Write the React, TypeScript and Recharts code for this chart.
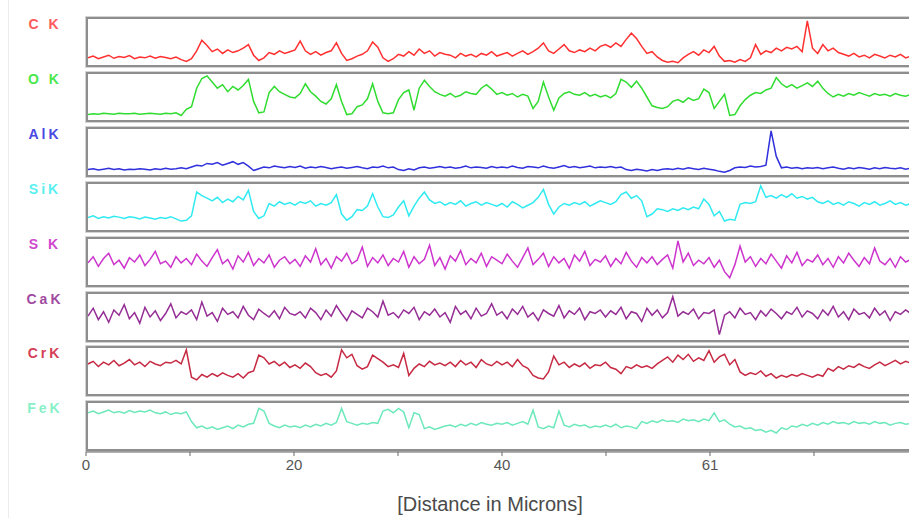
import { LineChart, Line, XAxis, YAxis } from 'recharts'

// distance step between scan points (microns)
const STEP = 0.5

const X_TICKS = [0, 10, 20, 30, 40, 50, 60, 70, 80]
const X_TICK_LABELS = ['0', '', '20', '', '40', '', '61', '', '80']

const ELEMENTS = ['C K', 'O K', 'AlK', 'SiK', 'S K', 'CaK', 'CrK', 'FeK']

// relative counts, 0-100 per panel
const C_K = [
  14, 18, 12, 16, 20, 13, 17, 15, 19, 12, 16, 14, 18, 13, 17, 15, 12, 16, 10, 6,
  12, 30, 54, 42, 28, 34, 24, 32, 26, 30, 36, 44, 20, 8, 14, 26, 22, 30, 24, 28,
  32, 52, 30, 22, 28, 20, 26, 30, 48, 24, 8, 12, 18, 22, 30, 50, 38, 14, 6, 12,
  22, 18, 28, 20, 34, 24, 30, 18, 26, 22, 20, 14, 24, 18, 22, 16, 24, 20, 28, 18,
  22, 26, 18, 24, 30, 22, 28, 36, 48, 30, 24, 34, 44, 30, 26, 32, 28, 36, 30, 40,
  44, 38, 48, 40, 56, 70, 58, 40, 24, 28, 16, 8, 4, 6, 3, 14, 22, 28, 20, 32,
  26, 40, 18, 6, 8, 4, 10, 6, 14, 44, 22, 30, 26, 36, 30, 38, 34, 40, 28, 98,
  36, 24, 44, 30, 36, 26, 22, 18, 24, 16, 20, 14, 22, 18, 14, 20, 16, 22, 14, 18,
  16,
]

const O_K = [
  10, 12, 11, 13, 12, 11, 13, 12, 12, 13, 11, 12, 13, 12, 11, 13, 12, 14, 8, 22,
  28, 70, 92, 98, 84, 70, 78, 62, 74, 66, 76, 90, 40, 14, 16, 60, 74, 62, 56, 50,
  48, 58, 80, 62, 52, 40, 34, 46, 78, 40, 10, 12, 28, 32, 46, 80, 40, 14, 12, 14,
  44, 60, 66, 20, 70, 88, 74, 62, 56, 52, 58, 50, 54, 62, 58, 56, 70, 78, 68, 56,
  60, 54, 58, 50, 56, 52, 24, 40, 84, 50, 20, 48, 58, 62, 56, 54, 60, 52, 56, 50,
  54, 48, 58, 90, 84, 72, 86, 70, 50, 30, 26, 24, 28, 40, 44, 38, 48, 42, 46, 68,
  60, 24, 40, 56, 8, 10, 30, 44, 54, 60, 58, 66, 70, 94, 80, 72, 78, 70, 76, 82,
  74, 86, 70, 58, 50, 56, 52, 58, 54, 60, 56, 52, 58, 54, 56, 52, 58, 54, 52, 56,
  54,
]

const AL_K = [
  10, 12, 9, 11, 13, 10, 12, 9, 11, 10, 12, 11, 9, 12, 10, 13, 11, 12, 14, 12,
  16, 20, 18, 24, 22, 26, 20, 24, 28, 22, 26, 18, 8, 12, 16, 14, 18, 16, 14, 17,
  15, 18, 13, 16, 14, 17, 15, 12, 14, 16, 13, 15, 17, 14, 12, 16, 15, 18, 14, 16,
  10, 8, 12, 9, 14, 16, 13, 15, 17, 14, 16, 13, 15, 18, 14, 16, 15, 13, 17, 14,
  16, 14, 18, 15, 13, 17, 16, 14, 18, 15, 13, 16, 19, 15, 17, 14, 16, 18, 14, 16,
  15, 17, 14, 16, 10, 8, 11, 9, 7, 10, 8, 11, 12, 10, 13, 11, 14, 12, 10, 13,
  11, 9, 6, 4, 8, 14, 16, 15, 18, 16, 17, 20, 98, 40, 14, 16, 13, 15, 12, 14,
  13, 15, 12, 14, 16, 13, 11, 14, 12, 15, 13, 11, 14, 12, 15, 13, 12, 14, 11, 13,
  12,
]

const SI_K = [
  26, 30, 24, 28, 25, 29, 27, 24, 28, 26, 23, 27, 25, 22, 26, 24, 28, 23, 18, 20,
  30, 84, 76, 70, 64, 72, 60, 68, 62, 74, 66, 88, 40, 24, 30, 58, 52, 62, 56, 60,
  54, 62, 58, 64, 52, 58, 54, 60, 78, 34, 20, 28, 44, 42, 52, 80, 50, 28, 26, 32,
  50, 64, 30, 52, 70, 84, 66, 58, 62, 54, 60, 56, 64, 52, 58, 62, 54, 60, 56, 52,
  58, 50, 62, 56, 48, 54, 60, 72, 90, 56, 34, 50, 58, 54, 60, 56, 62, 52, 58, 64,
  60, 56, 62, 78, 84, 70, 76, 64, 28, 34, 46, 44, 40, 46, 42, 48, 44, 50, 46, 68,
  56, 30, 40, 18, 22, 20, 56, 60, 58, 62, 98, 72, 76, 70, 78, 72, 80, 70, 74, 68,
  72, 62, 58, 64, 56, 60, 54, 62, 58, 52, 60, 56, 62, 54, 58, 64, 56, 60, 54, 58,
  56,
]

const S_K = [
  48, 62, 40, 58, 70, 44, 54, 36, 60, 50, 66, 42, 56, 74, 46, 52, 38, 62, 48, 58,
  44, 68, 52, 40, 60, 78, 46, 56, 34, 64, 50, 72, 42, 58, 48, 66, 38, 54, 62, 46,
  56, 40, 64, 50, 80, 44, 58, 36, 62, 52, 70, 46, 54, 84, 40, 60, 48, 66, 42, 58,
  50, 74, 38, 62, 46, 56, 88, 42, 60, 34, 64, 52, 76, 44, 58, 48, 70, 40, 62, 54,
  46, 68, 52, 38, 60, 82, 44, 56, 70, 40, 62, 48, 58, 36, 66, 52, 74, 42, 56, 50,
  64, 40, 58, 46, 72, 52, 38, 60, 48, 62, 44, 56, 66, 36, 98, 50, 70, 42, 54, 46,
  60, 38, 54, 28, 14, 44, 86, 50, 62, 40, 58, 46, 68, 52, 36, 64, 48, 72, 42, 56,
  50, 66, 44, 58, 38, 62, 48, 70, 54, 40, 60, 46, 82, 52, 44, 58, 38, 62, 50, 56,
  48,
]

const CA_K = [
  52, 70, 44, 62, 38, 66, 54, 78, 46, 60, 36, 72, 50, 64, 42, 58, 80, 48, 62, 56,
  66, 44, 84, 52, 60, 40, 70, 56, 62, 48, 74, 54, 44, 68, 58, 50, 64, 46, 72, 58,
  54, 62, 48, 70, 60, 44, 66, 52, 76, 58, 42, 64, 56, 48, 70, 62, 50, 86, 54, 60,
  48, 66, 58, 72, 44, 62, 54, 68, 50, 60, 38, 74, 56, 64, 46, 70, 52, 58, 80, 54,
  62, 46, 68, 56, 74, 50, 60, 42, 66, 58, 52, 76, 48, 64, 56, 70, 44, 62, 58, 66,
  50, 64, 56, 72, 46, 62, 58, 40, 70, 54, 66, 48, 60, 96, 52, 62, 56, 68, 46, 60,
  58, 66, 10, 54, 62, 48, 70, 56, 60, 44, 64, 52, 68, 58, 46, 62, 56, 72, 50, 64,
  58, 46, 66, 54, 74, 50, 62, 44, 68, 56, 60, 48, 70, 54, 64, 42, 62, 56, 66, 58,
  60,
]

const CR_K = [
  66, 72, 60, 70, 64, 74, 62, 68, 76, 64, 70, 60, 72, 66, 62, 70, 68, 74, 66, 98,
  36, 30, 42, 36, 44, 38, 46, 40, 36, 44, 34, 46, 50, 86, 80, 66, 72, 62, 70, 58,
  64, 56, 68, 60, 46, 40, 44, 36, 50, 98, 80, 88, 62, 54, 60, 86, 78, 70, 60, 64,
  58, 90, 40, 56, 66, 60, 72, 64, 68, 62, 70, 60, 74, 64, 70, 58, 76, 66, 62, 72,
  64, 70, 60, 76, 62, 56, 40, 34, 32, 48, 84, 64, 70, 58, 66, 60, 68, 56, 64, 62,
  70, 58, 54, 44, 60, 56, 64, 58, 62, 56, 66, 74, 82, 70, 86, 76, 88, 72, 80, 74,
  96, 70, 82, 88, 64, 76, 48, 40, 46, 42, 50, 38, 44, 34, 40, 36, 42, 38, 44, 40,
  36, 42, 38, 56, 50, 60, 54, 62, 58, 66, 60, 56, 64, 70, 62, 68, 74, 66, 72, 68,
  70,
]

const FE_K = [
  80, 84, 78, 82, 86, 80, 83, 79, 85, 81, 84, 82, 86, 80, 78, 82, 76, 80, 78, 82,
  60, 46, 50, 44, 48, 42, 46, 50, 44, 52, 48, 54, 56, 90, 84, 56, 50, 46, 52, 48,
  50, 46, 52, 48, 54, 50, 56, 52, 58, 90, 60, 56, 52, 56, 54, 58, 56, 84, 88, 80,
  90, 82, 46, 80, 76, 44, 48, 42, 46, 50, 52, 48, 54, 50, 56, 52, 58, 54, 52, 56,
  54, 58, 52, 56, 60, 54, 86, 48, 44, 50, 46, 84, 52, 48, 54, 50, 52, 46, 50, 48,
  52, 48, 54, 46, 50, 48, 44, 60, 56, 62, 58, 64, 60, 62, 58, 66, 62, 64, 60, 66,
  62, 80, 60, 64, 54, 48, 50, 44, 46, 40, 42, 36, 40, 34, 46, 42, 50, 48, 54, 50,
  56, 52, 58, 54, 60, 56, 58, 54, 60, 56, 58, 54, 60, 56, 58, 52, 56, 58, 54, 56,
  56,
]

const SERIES = [C_K, O_K, AL_K, SI_K, S_K, CA_K, CR_K, FE_K]
const LINE_COLORS = ['#ff1a1a', '#1ad81a', '#1a1ad8', '#1ae8f0', '#c81ec8', '#8a168a', '#c0122e', '#5ce6b4']
const LABEL_COLORS = ['#ff5a5a', '#4ae84a', '#4848e4', '#58f0f0', '#d048d0', '#a04aa0', '#d44058', '#88f0c8']

const LEFT = 86
const PLOT_W = 832
const PANEL_H = 50
const AXIS_PAD = 14
const panelTop = (i: number) => 17 + Math.round(i * 54.9)

const FONT = "'Liberation Sans', Arial, sans-serif"

function Panel({ values, color, top }: { values: number[]; color: string; top: number }) {
  const data = values.map((v, i) => ({ d: i * STEP, v }))
  return (
    <div
      style={{
        position: 'absolute', left: LEFT, top, width: PLOT_W, height: PANEL_H,
        boxSizing: 'border-box', border: '2px solid #8e8e8e', boxShadow: '0 0 0 1px #d4d4d4',
        background: '#fff',
      }}
    >
      <LineChart width={PLOT_W - 4} height={PANEL_H - 4} data={data} margin={{ top: 1, right: 0, bottom: 1, left: 0 }}>
        <XAxis dataKey="d" type="number" domain={[0, 80]} hide />
        <YAxis domain={[0, 100]} hide />
        <Line type="linear" dataKey="v" stroke={color} strokeWidth={1.5} strokeOpacity={0.9} dot={false} isAnimationActive={false} />
      </LineChart>
    </div>
  )
}

export default function App() {
  const axisData = FE_K.map((v, i) => ({ d: i * STEP, v }))
  return (
    <div style={{ position: 'absolute', left: 0, top: 0, width: 909, height: 518, overflow: 'hidden', background: '#fff', fontFamily: FONT }}>
      <div style={{ position: 'absolute', left: 8, top: 0, width: 1, height: 518, background: '#ececec' }} />
      {ELEMENTS.map((el, i) => (
        <div
          key={el}
          style={{
            position: 'absolute', left: 14, width: 62, top: panelTop(i) - 1, textAlign: 'center',
            fontSize: 14, fontWeight: 'bold', letterSpacing: 3, color: LABEL_COLORS[i], whiteSpace: 'pre', lineHeight: '16px',
          }}
        >
          {el}
        </div>
      ))}
      {SERIES.map((s, i) => (
        <Panel key={ELEMENTS[i]} values={s} color={LINE_COLORS[i]} top={panelTop(i)} />
      ))}
      <div style={{ position: 'absolute', left: LEFT - AXIS_PAD, top: 442 }}>
        <LineChart width={PLOT_W + AXIS_PAD * 2} height={40} data={axisData} margin={{ top: 0, right: AXIS_PAD, bottom: 0, left: AXIS_PAD }}>
          <XAxis
            dataKey="d" type="number" domain={[0, 80]} ticks={X_TICKS} interval={0}
            tickFormatter={(v: number) => X_TICK_LABELS[X_TICKS.indexOf(v)]}
            height={30} tickSize={4} tickMargin={3}
            stroke="#666" tick={{ fill: '#555', fontSize: 15, fontFamily: FONT }}
          />
          <YAxis domain={[0, 100]} hide />
          <Line dataKey="v" stroke="none" dot={false} isAnimationActive={false} />
        </LineChart>
      </div>
      <div style={{ position: 'absolute', left: 370, width: 240, top: 493, textAlign: 'center', fontSize: 20, color: '#4a4a4a' }}>
        [Distance in Microns]
      </div>
    </div>
  )
}
